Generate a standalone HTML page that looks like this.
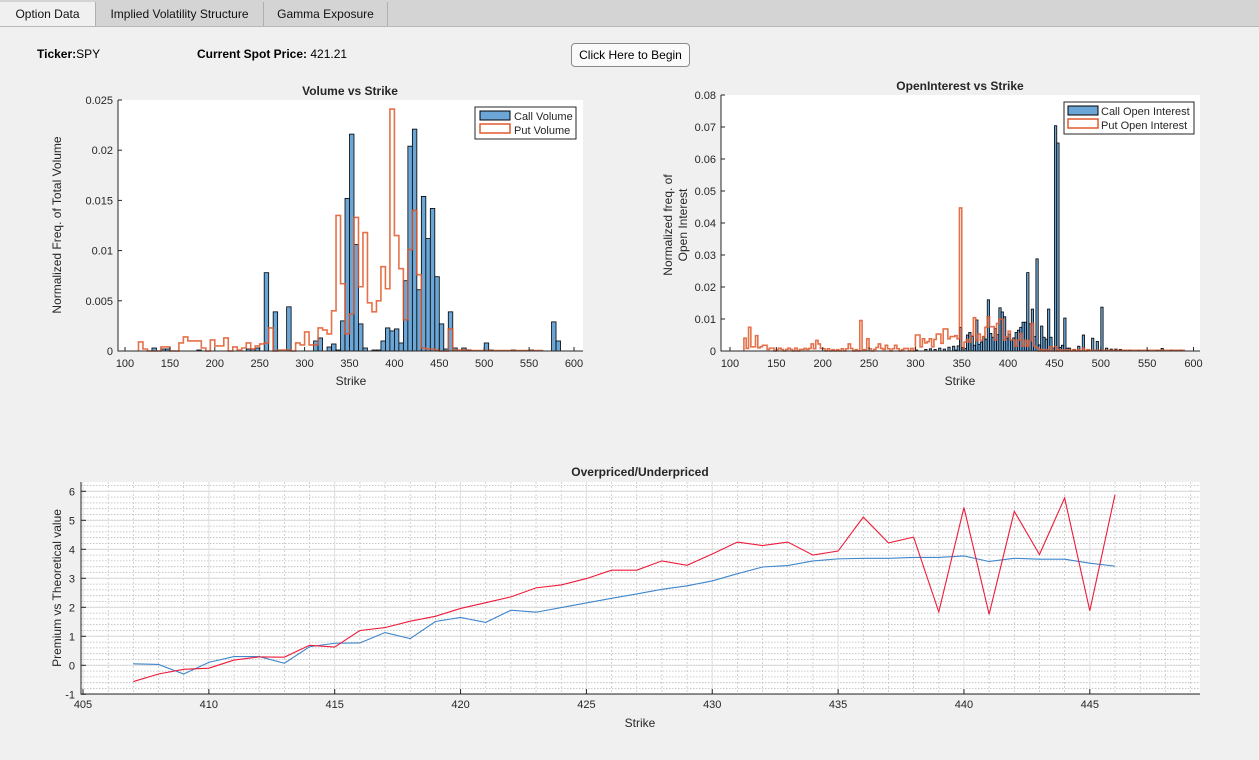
<!DOCTYPE html>
<html><head><meta charset="utf-8">
<style>
html,body{margin:0;padding:0;width:1259px;height:760px;overflow:hidden;background:#f0f0f0;font-family:"Liberation Sans",sans-serif;}
#tabs{position:absolute;left:0;top:0;width:1259px;height:26px;background:#d4d4d4;border-bottom:1px solid #b8b8b8;}
.tab{position:absolute;top:2px;height:24px;font-size:12px;line-height:24px;text-align:center;color:#111;border-right:1px solid #b0b0b0;}
.lbl{position:absolute;font-size:12px;color:#000;}
#btn{position:absolute;left:571px;top:43px;width:117px;height:22px;border:1px solid #8a8a8a;border-radius:4px;background:#fafafa;font-size:12px;line-height:22px;text-align:center;}
svg{position:absolute;left:0;top:0;}
</style></head><body>
<div id="tabs">
<div class="tab" style="left:0;width:95px;background:#f0f0f0;">Option Data</div>
<div class="tab" style="left:96px;width:167px;">Implied Volatility Structure</div>
<div class="tab" style="left:264px;width:123px;">Gamma Exposure</div>
</div>
<div class="lbl" style="left:37px;top:47px;"><b>Ticker:</b>SPY</div>
<div class="lbl" style="left:197px;top:47px;"><b>Current Spot Price:</b> 421.21</div>
<div id="btn">Click Here to Begin</div>
<svg id="chart" width="1259" height="760"></svg>
<script>
// ---- Volume vs Strike data ----
const volCallStrikes=[130,140,145,180,235,240,245,255,265,280,310,315,325,330,335,340,345,350,355,360,365,375,380,385,390,395,400,405,410,415,420,425,430,435,440,445,450,455,460,465,475,480,500,505,530,550,575,580];
const volCallValues=[.0003,.0002,.0002,.0001,.0002,.0002,.0003,.0078,.0039,.0044,.001,.0013,.0004,.0007,.0001,.003,.0152,.0216,.0106,.0027,.0003,.0001,.0001,.001,.0023,.002,.0022,.0008,.007,.0204,.0221,.0061,.0154,.0112,.0142,.0074,.0027,.0002,.0039,.0003,.0003,.0001,.0008,.0001,.0001,.0001,.0029,.001];
const volPutStart=115;
const volPutValues=[.0009,.0002,0,0,0,.0004,.0004,0,0,.0008,.0014,.001,.001,.001,.0003,0,.0011,.0005,.0005,.0013,0,.0004,.0001,.0003,.0008,.0002,.0005,.0007,.0008,.0023,0,.0001,.0001,.0001,0,.0008,.0006,.0019,.0006,.0006,.0023,.0021,.0017,.004,.0135,.0067,.0017,.0037,.0133,.0064,.0118,.0048,.0039,.005,.0084,.0062,.0241,.0115,.0082,.0031,.0101,.014,.0076,.0003,.0002,.0002,.0001,0,0,.0022,.0001,.0001,.0001,.0001,.00005,.00005,.00005,.00005,.00005,.00005,.00005,.00005,.00005,.00005,.00005,.00005,.00005,.00005,.00005,.00005];
const volYTicks=[0,0.005,0.01,0.015,0.02,0.025];
const volYTickLabels=["0","0.005","0.01","0.015","0.02","0.025"];
const strikeTicks=[100,150,200,250,300,350,400,450,500,550,600];
// ---- Open Interest data ----
const oiCallStrikes=[300,310,315,320,325,330,335,340,342.5,345,347.5,350,352.5,355,357.5,360,362.5,365,367.5,370,372.5,375,377.5,380,382.5,385,387.5,390,392.5,395,397.5,400,402.5,405,407.5,410,412.5,415,417.5,420,422.5,425,427.5,430,432.5,435,437.5,440,442.5,445,447.5,450,452.5,455,457.5,460,462.5,465,470,475,480,485,490,495,500,505,510,515,520,525,530,540,550,560,565,575,580,585];
const oiCallValues=[.0003,.0005,.0007,.0005,.0009,.0006,.0012,.0015,.0003,.0016,.0074,.0011,.0008,.005,.0058,.0045,.0018,.0097,.0021,.0028,.0045,.0037,.016,.0055,.0043,.007,.0051,.0135,.0122,.0107,.004,.0053,.0034,.0041,.0058,.0065,.0074,.009,.009,.0245,.0085,.0131,.0045,.0288,.0019,.0078,.0043,.0037,.0131,.0043,.0009,.0704,.065,.0011,.0018,.0103,.0009,.0009,.0005,.0015,.005,.0003,.004,.003,.0137,.0009,.0006,.0006,.0005,.0002,.0003,.0002,.0002,.0002,.0008,.0003,.0002,.0003];
const oiPutStrikes=[115,117.5,120,122.5,125,127.5,130,132.5,135,137.5,140,142.5,145,150,152.5,155,160,162.5,165,170,175,177.5,180,182.5,185,187.5,190,192.5,195,197.5,200,205,210,215,220,225,227.5,230,235,240,242.5,245,247.5,250,255,257.5,260,262.5,265,267.5,270,275,277.5,280,285,287.5,290,295,300,302.5,305,307.5,310,312.5,315,317.5,320,322.5,325,327.5,330,332.5,335,337.5,340,342.5,345,347.5,350,352.5,355,357.5,360,362.5,365,367.5,370,372.5,375,377.5,380,382.5,385,387.5,390,392.5,395,397.5,400,402.5,405,407.5,410,412.5,415,417.5,420,422.5,425,427.5,430,435,440,445,450,455,460,465,470,475,480,485];
const oiPutValues=[.004,.0008,.0074,.0013,.0013,.0048,.001,.0013,.0018,.0018,.0005,.0009,.0009,.0005,.0009,.0005,.0005,.0009,.0005,.0009,.0005,.0005,.0008,.0005,.0008,.0022,.0007,.0033,.0022,.0008,.0007,.0007,.0004,.0004,.0007,.0007,.0022,.0008,.0004,.0095,.0004,.0004,.0038,.0007,.0005,.0011,.0022,.0008,.0005,.0018,.0007,.0007,.0018,.0007,.0004,.0008,.0008,.0008,.005,.005,.0013,.0038,.0025,.0029,.0038,.0013,.0036,.0053,.0053,.0024,.0069,.0069,.0038,.0045,.0045,.0048,.0038,.0447,.0008,.0028,.0036,.0028,.0048,.0104,.0033,.0053,.0033,.0045,.0074,.0107,.0076,.0076,.0034,.0086,.0099,.0099,.0034,.0044,.0062,.0034,.0034,.0015,.0034,.0055,.0015,.0034,.0015,.0032,.0086,.0015,.001,.0005,.0004,.0013,.0013,.0004,.0004,.0004,.0004,.0004,.0008,.0004];
const oiPutTailValue=0.0002;
const oiYTicks=[0,.01,.02,.03,.04,.05,.06,.07,.08];
const oiYTickLabels=["0","0.01","0.02","0.03","0.04","0.05","0.06","0.07","0.08"];
// ---- Overpriced/Underpriced data ----
const premStrikes=[407,408,409,410,411,412,413,414,415,416,417,418,419,420,421,422,423,424,425,426,427,428,429,430,431,432,433,434,435,436,437,438,439,440,441,442,443,444,445,446];
const premBlue=[0.05,0.03,-0.3,0.1,0.3,0.3,0.07,0.64,0.76,0.77,1.13,0.92,1.51,1.65,1.48,1.9,1.83,1.99,2.15,2.31,2.46,2.62,2.74,2.91,3.16,3.39,3.44,3.6,3.67,3.69,3.69,3.72,3.72,3.77,3.58,3.69,3.66,3.66,3.52,3.42];
const premRed=[-0.56,-0.3,-0.14,-0.1,0.18,0.29,0.28,0.69,0.63,1.2,1.3,1.52,1.69,1.96,2.16,2.36,2.67,2.77,2.99,3.28,3.28,3.6,3.45,3.84,4.25,4.13,4.25,3.8,3.94,5.11,4.22,4.42,1.84,5.44,1.76,5.31,3.82,5.77,1.88,5.88];
const premXTicks=[405,410,415,420,425,430,435,440,445];
const premYTicks=[-1,0,1,2,3,4,5,6];

const NS="http://www.w3.org/2000/svg";
const svg=document.getElementById('chart');
function mk(tag,attrs,parent){const e=document.createElementNS(NS,tag);for(const k in attrs)e.setAttribute(k,attrs[k]);(parent||svg).appendChild(e);return e;}
function txt(x,y,s,anchor,size,weight,parent){const t=mk('text',{x:x,y:y,'text-anchor':anchor||'middle','font-size':size||11,'font-weight':weight||'normal','font-family':'Liberation Sans, sans-serif',fill:'#262626'},parent);t.textContent=s;return t;}

// ===== Chart 1 =====
const g1=mk('g',{});


const L1=118,R1=583,T1=100,B1=351;
const x1=v=>125+(v-100)*0.898;
const y1=v=>B1-v/0.025*(B1-T1);
const bg1=mk('rect',{x:L1,y:T1,width:R1-L1,height:B1-T1,fill:'#fff'},g1);


volCallStrikes.forEach((s,i)=>{
  const r=mk('rect',{x:x1(s),y:y1(volCallValues[i]),width:x1(s+5)-x1(s),height:B1-y1(volCallValues[i]),fill:'#6ba6d6',stroke:'#000','stroke-width':0.8},g1);
  
  
});
let d='M'+x1(volPutStart)+','+B1;
volPutValues.forEach((v,i)=>{const s=volPutStart+5*i;d+=' L'+x1(s)+','+y1(v)+' L'+x1(s+5)+','+y1(v);});
d+=' L'+x1(volPutStart+5*volPutValues.length)+','+B1;
const p1=mk('path',{d:d,fill:'none',stroke:'#e0582c','stroke-width':1.6,'stroke-opacity':0.85},g1);


mk('path',{d:`M${L1},${T1}V${B1}H${R1}`,fill:'none',stroke:'#262626','stroke-width':1},g1);
volYTicks.forEach((v,i)=>{mk('line',{x1:L1,x2:L1+4,y1:y1(v),y2:y1(v),stroke:'#262626'},g1);const t=txt(L1-5,y1(v)+4,volYTickLabels[i],'end',11,'normal',g1);});
strikeTicks.forEach(v=>{mk('line',{x1:x1(v),x2:x1(v),y1:B1,y2:B1-4,stroke:'#262626'},g1);const t=txt(x1(v),B1+16,String(v),'middle',11,'normal',g1);});
const tt1=txt(350,95,'Volume vs Strike','middle',12,'bold',g1);

const xl1=txt(351,385,'Strike','middle',12,'normal',g1);

const yl1=txt(0,0,'Normalized Freq. of Total Volume','middle',12,'normal',g1);
yl1.setAttribute('transform','translate(61,225) rotate(-90)');

const lg1=mk('g',{},g1);

mk('rect',{x:475,y:107,width:101,height:32,fill:'#fff',stroke:'#262626'},lg1);
mk('rect',{x:480,y:111,width:30,height:9,fill:'#6ba6d6',stroke:'#000'},lg1);
txt(514,120,'Call Volume','start',11,'normal',lg1);
mk('rect',{x:480,y:124,width:30,height:9,fill:'none',stroke:'#e0582c','stroke-width':1.5},lg1);
txt(514,134,'Put Volume','start',11,'normal',lg1);

// ===== Chart 2 =====
const g2=mk('g',{});


const L2=721,R2=1200,T2=95,B2=351;
const x2=v=>730+(v-100)*0.927;
const y2=v=>B2-v/0.08*(B2-T2);
mk('rect',{x:L2,y:T2,width:R2-L2,height:B2-T2,fill:'#fff'},g2);
oiCallStrikes.forEach((s,i)=>{
  const r=mk('rect',{x:x2(s),y:y2(oiCallValues[i]),width:x2(s+2.5)-x2(s),height:B2-y2(oiCallValues[i]),fill:'#6ba6d6',stroke:'#000','stroke-width':0.8},g2);
  
  
});
const pm={};oiPutStrikes.forEach((s,i)=>pm[s]=oiPutValues[i]);
const lastPut=oiPutStrikes[oiPutStrikes.length-1];
let d2='M'+x2(115)+','+B2;
for(let s=115;s<590;s+=2.5){const v=(s in pm)?pm[s]:(s>lastPut?oiPutTailValue:0);d2+=' L'+x2(s)+','+y2(v)+' L'+x2(s+2.5)+','+y2(v);}
d2+=' L'+x2(590)+','+B2;
const p2=mk('path',{d:d2,fill:'none',stroke:'#e0582c','stroke-width':1.6,'stroke-opacity':0.85},g2);


mk('path',{d:`M${L2},${T2}V${B2}H${R2}`,fill:'none',stroke:'#262626','stroke-width':1},g2);
oiYTicks.forEach((v,i)=>{mk('line',{x1:L2,x2:L2+4,y1:y2(v),y2:y2(v),stroke:'#262626'},g2);const t=txt(L2-5,y2(v)+4,oiYTickLabels[i],'end',11,'normal',g2);});
strikeTicks.forEach(v=>{mk('line',{x1:x2(v),x2:x2(v),y1:B2,y2:B2-4,stroke:'#262626'},g2);const t=txt(x2(v),B2+16,String(v),'middle',11,'normal',g2);});
const tt2=txt(960,90,'OpenInterest vs Strike','middle',12,'bold',g2);

const xl2=txt(960,385,'Strike','middle',12,'normal',g2);

const yl2a=txt(0,0,'Normalized freq. of','middle',12,'normal',g2);
yl2a.setAttribute('transform','translate(672,225) rotate(-90)');

const yl2b=txt(0,0,'Open Interest','middle',12,'normal',g2);
yl2b.setAttribute('transform','translate(687,225) rotate(-90)');

const lg2=mk('g',{},g2);

mk('rect',{x:1064,y:102,width:130,height:32,fill:'#fff',stroke:'#262626'},lg2);
mk('rect',{x:1068,y:106,width:30,height:9,fill:'#6ba6d6',stroke:'#000'},lg2);
txt(1101,115,'Call Open Interest','start',11,'normal',lg2);
mk('rect',{x:1068,y:119,width:30,height:9,fill:'none',stroke:'#e0582c','stroke-width':1.5},lg2);
txt(1101,129,'Put Open Interest','start',11,'normal',lg2);

// ===== Chart 3 =====
const g3=mk('g',{});


const L3=81,R3=1200,T3=482,B3=694;
const x3=v=>83+(v-405)*25.17;
const y3=v=>665.3-v*29;
mk('rect',{x:L3,y:T3,width:R3-L3,height:B3-T3,fill:'#fff'},g3);
for(let v=-1;v<=6.4;v+=0.2){const yy=y3(v);if(yy<T3||yy>B3)continue;mk('line',{x1:L3,x2:R3,y1:yy,y2:yy,stroke:'#b8b8b8','stroke-width':0.8,'stroke-dasharray':'1.5,1.5'},g3);}
for(let v=405;v<=449.5;v+=1){const xx=x3(v);if(xx<L3||xx>R3)continue;mk('line',{x1:xx,x2:xx,y1:T3,y2:B3,stroke:'#c0c0c0','stroke-width':0.7,'stroke-dasharray':'2,2'},g3);}
premYTicks.forEach(v=>{mk('line',{x1:L3,x2:R3,y1:y3(v),y2:y3(v),stroke:'#dcdcdc','stroke-width':1.2},g3);});
premXTicks.forEach(v=>{mk('line',{x1:x3(v),x2:x3(v),y1:T3,y2:B3,stroke:'#e0e0e0','stroke-width':1},g3);});
const lineOf=(arr)=>premStrikes.map((s,i)=>(i?'L':'M')+x3(s)+','+y3(arr[i])).join(' ');
const lb=mk('path',{d:lineOf(premBlue),fill:'none',stroke:'#3f86cc','stroke-width':1.1},g3);

const lr=mk('path',{d:lineOf(premRed),fill:'none',stroke:'#ee1b3a','stroke-width':1.1},g3);

mk('path',{d:`M${L3},${T3}V${B3}H${R3}`,fill:'none',stroke:'#262626','stroke-width':1},g3);
premYTicks.forEach(v=>{mk('line',{x1:L3,x2:L3+5,y1:y3(v),y2:y3(v),stroke:'#262626'},g3);const t=txt(L3-6,y3(v)+4,String(v),'end',11,'normal',g3);});
premXTicks.forEach(v=>{mk('line',{x1:x3(v),x2:x3(v),y1:B3,y2:B3-5,stroke:'#262626'},g3);const t=txt(x3(v),B3+14,String(v),'middle',11,'normal',g3);});
const tt3=txt(640,476,'Overpriced/Underpriced','middle',12,'bold',g3);

const xl3=txt(640,727,'Strike','middle',12,'normal',g3);

const yl3=txt(0,0,'Premium vs Theoretical value','middle',12,'normal',g3);
yl3.setAttribute('transform','translate(61,588) rotate(-90)');

</script>
</body></html>
